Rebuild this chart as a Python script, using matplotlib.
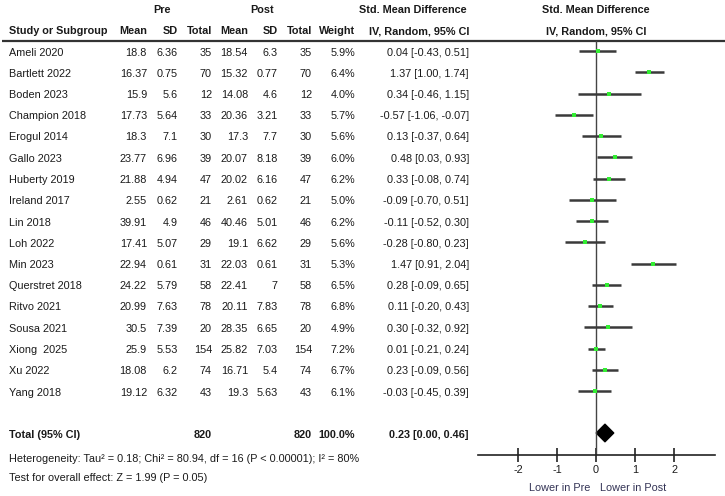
import matplotlib
matplotlib.use("Agg")
import matplotlib.pyplot as plt
from matplotlib.patches import Polygon

plt.rcParams['font.family'] = ['Liberation Sans', 'DejaVu Sans']

studies = ["Ameli 2020", "Bartlett 2022", "Boden 2023", "Champion 2018", "Erogul 2014",
           "Gallo 2023", "Huberty 2019", "Ireland 2017", "Lin 2018", "Loh 2022", "Min 2023",
           "Querstret 2018", "Ritvo 2021", "Sousa 2021", "Xiong  2025", "Xu 2022", "Yang 2018"]
pre_mean = ["18.8", "16.37", "15.9", "17.73", "18.3", "23.77", "21.88", "2.55", "39.91", "17.41",
            "22.94", "24.22", "20.99", "30.5", "25.9", "18.08", "19.12"]
pre_sd = ["6.36", "0.75", "5.6", "5.64", "7.1", "6.96", "4.94", "0.62", "4.9", "5.07",
          "0.61", "5.79", "7.63", "7.39", "5.53", "6.2", "6.32"]
pre_n = [35, 70, 12, 33, 30, 39, 47, 21, 46, 29, 31, 58, 78, 20, 154, 74, 43]
post_mean = ["18.54", "15.32", "14.08", "20.36", "17.3", "20.07", "20.02", "2.61", "40.46", "19.1",
             "22.03", "22.41", "20.11", "28.35", "25.82", "16.71", "19.3"]
post_sd = ["6.3", "0.77", "4.6", "3.21", "7.7", "8.18", "6.16", "0.62", "5.01", "6.62",
           "0.61", "7", "7.83", "6.65", "7.03", "5.4", "5.63"]
post_n = [35, 70, 12, 33, 30, 39, 47, 21, 46, 29, 31, 58, 78, 20, 154, 74, 43]
weight = [5.9, 6.4, 4.0, 5.7, 5.6, 6.0, 6.2, 5.0, 6.2, 5.6, 5.3, 6.5, 6.8, 4.9, 7.2, 6.7, 6.1]
smd = [0.04, 1.37, 0.34, -0.57, 0.13, 0.48, 0.33, -0.09, -0.11, -0.28, 1.47,
       0.28, 0.11, 0.30, 0.01, 0.23, -0.03]
ci_lo = [-0.43, 1.00, -0.46, -1.06, -0.37, 0.03, -0.08, -0.70, -0.52, -0.80, 0.91,
         -0.09, -0.20, -0.32, -0.21, -0.09, -0.45]
ci_hi = [0.51, 1.74, 1.15, -0.07, 0.64, 0.93, 0.74, 0.51, 0.30, 0.23, 2.04,
         0.65, 0.43, 0.92, 0.24, 0.56, 0.39]
total_pre_n = 820
total_post_n = 820
total_weight = "100.0%"
total_smd, total_lo, total_hi = 0.23, 0.00, 0.46
heterogeneity = "Heterogeneity: Tau\u00b2 = 0.18; Chi\u00b2 = 80.94, df = 16 (P < 0.00001); I\u00b2 = 80%"
overall = "Test for overall effect: Z = 1.99 (P = 0.05)"
xticks = [-2, -1, 0, 1, 2]
left_label, right_label = "Lower in Pre", "Lower in Post"

W, H = 725, 496
fig = plt.figure(figsize=(W / 100, H / 100), dpi=100)
fig.patch.set_facecolor("white")
ax = fig.add_axes([0, 0, 1, 1])
ax.set_xlim(0, W)
ax.set_ylim(H, 0)
ax.axis("off")

FS = 7.8
TC = "#1a1a1a"
y0, dy = 52.5, 21.25
LX = 9

# header
ax.text(162, 10, "Pre", ha="center", va="center", fontsize=FS, fontweight="bold", color=TC)
ax.text(262, 10, "Post", ha="center", va="center", fontsize=FS, fontweight="bold", color=TC)
ax.text(413, 10, "Std. Mean Difference", ha="center", va="center", fontsize=FS, fontweight="bold", color=TC)
ax.text(596, 10, "Std. Mean Difference", ha="center", va="center", fontsize=FS, fontweight="bold", color=TC)
hy = 31
ax.text(LX, hy, "Study or Subgroup", ha="left", va="center", fontsize=FS, fontweight="bold", color=TC)
cols_r = [147, 178, 212, 248, 278, 312, 355]
for xr, lab in zip(cols_r, ["Mean", "SD", "Total", "Mean", "SD", "Total", "Weight"]):
    ax.text(xr, hy, lab, ha="right", va="center", fontsize=FS, fontweight="bold", color=TC)
ax.text(469, hy, "IV, Random, 95% CI", ha="right", va="center", fontsize=FS, fontweight="bold", color=TC)
ax.text(596, hy, "IV, Random, 95% CI", ha="center", va="center", fontsize=FS, fontweight="bold", color=TC)
ax.plot([2, W], [40.5, 40.5], color="#333333", lw=1.6, solid_capstyle="butt")

# rows
for i, name in enumerate(studies):
    y = y0 + i * dy
    ax.text(LX, y, name, ha="left", va="center", fontsize=FS, color=TC)
    vals = [pre_mean[i], pre_sd[i], str(pre_n[i]), post_mean[i], post_sd[i], str(post_n[i]),
            f"{weight[i]:.1f}%"]
    for xr, v in zip(cols_r, vals):
        ax.text(xr, y, v, ha="right", va="center", fontsize=FS, color=TC)
    ax.text(469, y, f"{smd[i]:.2f} [{ci_lo[i]:.2f}, {ci_hi[i]:.2f}]", ha="right", va="center",
            fontsize=FS, color=TC)

ty = 435
ax.text(LX, ty, "Total (95% CI)", ha="left", va="center", fontsize=FS, fontweight="bold", color=TC)
ax.text(212, ty, str(total_pre_n), ha="right", va="center", fontsize=FS, fontweight="bold", color=TC)
ax.text(312, ty, str(total_post_n), ha="right", va="center", fontsize=FS, fontweight="bold", color=TC)
ax.text(355, ty, total_weight, ha="right", va="center", fontsize=FS, fontweight="bold", color=TC)
ax.text(469, ty, f"{total_smd:.2f} [{total_lo:.2f}, {total_hi:.2f}]", ha="right", va="center",
        fontsize=FS, fontweight="bold", color=TC)
ax.text(LX, 459, heterogeneity, ha="left", va="center", fontsize=FS, color=TC)
ax.text(LX, 478, overall, ha="left", va="center", fontsize=FS, color=TC)

# forest axes
ax_top, ax_bot = 40.5, 455
px0, px1, zero_px, ppu = 478, 715, 596, 39.0
fa = fig.add_axes([px0 / W, (H - ax_bot) / H, (px1 - px0) / W, (ax_bot - ax_top) / H])
fa.set_xlim((px0 - zero_px) / ppu, (px1 - zero_px) / ppu)
fa.set_ylim(ax_bot, ax_top)
fa.patch.set_alpha(0)
for s in ["top", "left", "right"]:
    fa.spines[s].set_visible(False)
fa.spines["bottom"].set_color("#222222")
fa.spines["bottom"].set_linewidth(1.2)
fa.set_yticks([])
fa.set_xticks(xticks)
fa.set_xticklabels([str(t) for t in xticks], fontsize=FS, color=TC)
fa.tick_params(axis="x", direction="inout", length=10, width=1.2, color="#222222", pad=2)
fa.axvline(0, color="#444444", lw=1.0)

for i in range(len(studies)):
    y = y0 - 1.5 + i * dy
    fa.plot([ci_lo[i], ci_hi[i]], [y, y], color="#3a3a3a", lw=1.8, solid_capstyle="butt")
    fa.plot([smd[i]], [y], marker="s", ms=3.4, color="#33ee33", mec="#33ee33", mew=0)

dyd = 433
dia = Polygon([[total_lo, dyd], [total_smd, dyd - 9], [total_hi, dyd], [total_smd, dyd + 9]],
              closed=True, facecolor="black", edgecolor="black", lw=0.8)
fa.add_patch(dia)

ax.text(560, 488, left_label, ha="center", va="center", fontsize=FS, color="#333355")
ax.text(633, 488, right_label, ha="center", va="center", fontsize=FS, color="#333355")

fig.savefig("out.png", dpi=100, facecolor="white")
